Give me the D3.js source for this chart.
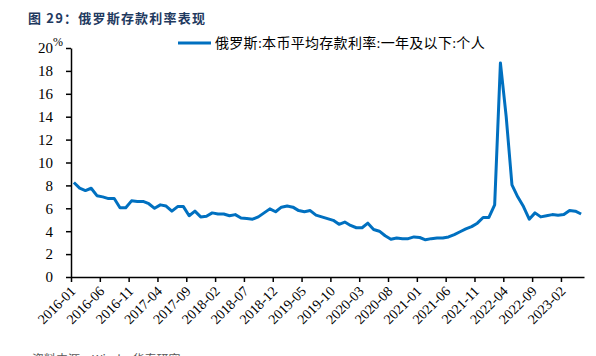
<!DOCTYPE html>
<html>
<head>
<meta charset="utf-8">
<script src="https://cdn.jsdelivr.net/npm/d3@7"></script>
<style>
  html, body { margin: 0; padding: 0; background: #fff; }
  svg { display: block; }
</style>
</head>
<body>
<svg id="chart" width="596" height="356"></svg>
<script>
const titleText = "图 29：俄罗斯存款利率表现";
const seriesName = "俄罗斯:本币平均存款利率:一年及以下:个人";
const sourceText = "资料来源：Wind，华泰研究";

const categories = [
  "2016-01","2016-02","2016-03","2016-04","2016-05","2016-06","2016-07","2016-08","2016-09","2016-10","2016-11","2016-12",
  "2017-01","2017-02","2017-03","2017-04","2017-05","2017-06","2017-07","2017-08","2017-09","2017-10","2017-11","2017-12",
  "2018-01","2018-02","2018-03","2018-04","2018-05","2018-06","2018-07","2018-08","2018-09","2018-10","2018-11","2018-12",
  "2019-01","2019-02","2019-03","2019-04","2019-05","2019-06","2019-07","2019-08","2019-09","2019-10","2019-11","2019-12",
  "2020-01","2020-02","2020-03","2020-04","2020-05","2020-06","2020-07","2020-08","2020-09","2020-10","2020-11","2020-12",
  "2021-01","2021-02","2021-03","2021-04","2021-05","2021-06","2021-07","2021-08","2021-09","2021-10","2021-11","2021-12",
  "2022-01","2022-02","2022-03","2022-04","2022-05","2022-06","2022-07","2022-08","2022-09","2022-10","2022-11","2022-12",
  "2023-01","2023-02","2023-03","2023-04","2023-05"
];

const rateValues = [
  8.25, 7.76, 7.55, 7.75, 7.10, 7.00, 6.85, 6.85, 6.05, 6.05, 6.65, 6.60,
  6.60, 6.40, 6.00, 6.30, 6.20, 5.75, 6.15, 6.15, 5.35, 5.75, 5.25, 5.30,
  5.60, 5.50, 5.50, 5.35, 5.45, 5.15, 5.10, 5.05, 5.25, 5.60, 5.95, 5.70,
  6.10, 6.20, 6.10, 5.80, 5.70, 5.80, 5.40, 5.25, 5.10, 4.95, 4.60, 4.80,
  4.50, 4.30, 4.30, 4.70, 4.15, 4.00, 3.60, 3.30, 3.40, 3.35, 3.35, 3.50,
  3.45, 3.25, 3.35, 3.40, 3.40, 3.50, 3.70, 3.95, 4.20, 4.40, 4.70, 5.20,
  5.20, 6.30, 18.70, 14.00, 8.05, 7.00, 6.15, 5.05, 5.60, 5.25, 5.35, 5.45,
  5.40, 5.45, 5.80, 5.75, 5.50
];

const xTickLabels = [
  "2016-01","2016-06","2016-11","2017-04","2017-09","2018-02","2018-07","2018-12","2019-05",
  "2019-10","2020-03","2020-08","2021-01","2021-06","2021-11","2022-04","2022-09","2023-02"
];
const yTicks = [0, 2, 4, 6, 8, 10, 12, 14, 16, 18, 20];

const svg = d3.select("#chart");
const serif = "'Liberation Serif', 'Times New Roman', 'Noto Sans CJK SC', serif";
const lineColor = "#0070C0";

const plotLeft = 71, plotRight = 584, plotTop = 48, plotBottom = 277;

const x = d3.scaleLinear().domain([0, categories.length]).range([plotLeft, plotRight]);
const y = d3.scaleLinear().domain([0, 20]).range([plotBottom, plotTop]);

// Title
svg.append("text")
  .attr("x", 28).attr("y", 23)
  .attr("font-family", "'Noto Sans CJK SC', sans-serif")
  .attr("font-weight", "bold")
  .attr("font-size", 13)
  .attr("letter-spacing", 1.2)
  .attr("fill", "#1F3A5F")
  .text(titleText);

// Legend
svg.append("line")
  .attr("x1", 178).attr("x2", 211).attr("y1", 43).attr("y2", 43)
  .attr("stroke", lineColor).attr("stroke-width", 3);
svg.append("text")
  .attr("x", 215).attr("y", 48)
  .attr("font-family", serif)
  .attr("font-size", 14)
  .attr("letter-spacing", 0.3)
  .attr("fill", "#000")
  .text(seriesName);

// Y axis
const yAxis = d3.axisLeft(y).tickValues(yTicks).tickSize(5).tickSizeOuter(0).tickPadding(13).tickFormat(d3.format("d"));
const gy = svg.append("g").attr("transform", `translate(${plotLeft},0)`).call(yAxis);
gy.select(".domain").attr("stroke", "#000").attr("stroke-width", 1.5);
gy.selectAll(".tick line").attr("stroke", "#000").attr("stroke-width", 1.5);
gy.selectAll(".tick text").attr("font-family", serif).attr("font-size", 15).attr("fill", "#000");

svg.append("text")
  .attr("x", 53).attr("y", 46)
  .attr("font-family", serif).attr("font-size", 12).attr("fill", "#000")
  .text("%");

// X axis
const tickIdx = xTickLabels.map(l => categories.indexOf(l));
const xAxis = d3.axisBottom(x).tickValues(tickIdx).tickSize(5).tickSizeOuter(0)
  .tickFormat(i => categories[i]);
const gx = svg.append("g").attr("transform", `translate(0,${plotBottom})`).call(xAxis);
gx.select(".domain").attr("stroke", "#000").attr("stroke-width", 1.5);
gx.selectAll(".tick line").attr("stroke", "#000").attr("stroke-width", 1.5);
gx.selectAll(".tick text")
  .attr("font-family", serif).attr("font-size", 14).attr("fill", "#000")
  .attr("text-anchor", "end")
  .attr("x", 0).attr("y", 0).attr("dy", 0)
  .attr("transform", "translate(5,15) rotate(-45)");

// Line
const line = d3.line()
  .x((d, i) => x(i + 0.5))
  .y(d => y(d));
svg.append("path")
  .datum(rateValues)
  .attr("d", line)
  .attr("fill", "none")
  .attr("stroke", lineColor)
  .attr("stroke-width", 3)
  .attr("stroke-linejoin", "round");

// Source (cut off at bottom edge, as in the reference)
svg.append("text")
  .attr("x", 32).attr("y", 364)
  .attr("font-family", "'Noto Sans CJK SC', sans-serif")
  .attr("font-size", 12)
  .attr("fill", "#595959")
  .text(sourceText);
</script>
</body>
</html>
